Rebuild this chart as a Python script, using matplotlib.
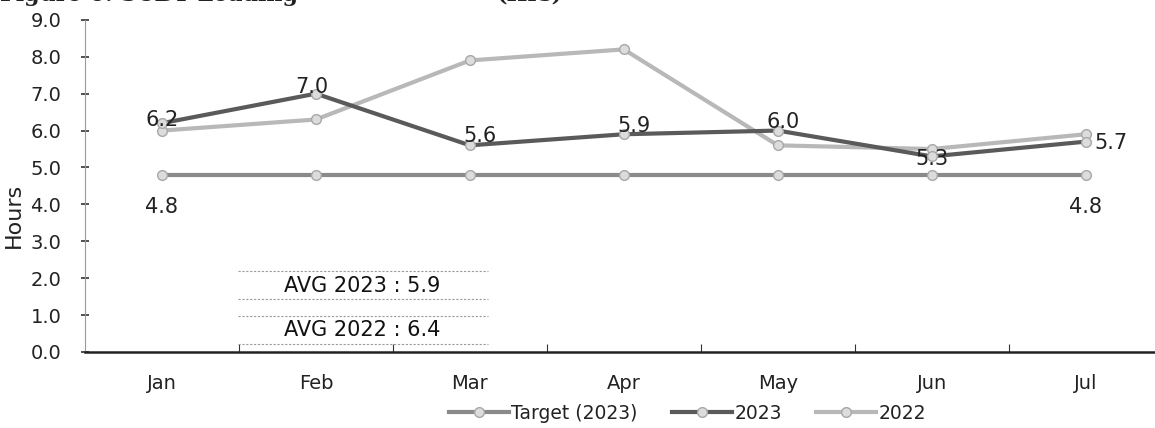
import matplotlib
matplotlib.use("Agg")
import matplotlib.pyplot as plt
from matplotlib.lines import Line2D
from matplotlib.ticker import FixedLocator

plt.rcParams['font.family'] = ['DejaVu Sans']

months = ["Jan", "Feb", "Mar", "Apr", "May", "Jun", "Jul"]
target_2023 = [4.8, 4.8, 4.8, 4.8, 4.8, 4.8, 4.8]
hours_2023 = [6.2, 7.0, 5.6, 5.9, 6.0, 5.3, 5.7]
hours_2022 = [6.0, 6.3, 7.9, 8.2, 5.6, 5.5, 5.9]
avg_2023 = 5.9
avg_2022 = 6.4
y_ticks = [0, 1, 2, 3, 4, 5, 6, 7, 8, 9]

fig = plt.figure(figsize=(11.55, 4.28), dpi=100)
ax = fig.add_axes([0.0736, 0.1776, 0.933, 0.776])

x = list(range(len(months)))

marker_kw = dict(marker="o", markersize=7, markerfacecolor="#dcdcdc",
                 markeredgecolor="#a8a8a8", markeredgewidth=1.0)

l_t, = ax.plot(x, target_2023, color="#8a8a8a", lw=3.0, label="Target (2023)",
               zorder=3, **marker_kw)
l_23, = ax.plot(x, hours_2023, color="#5a5a5a", lw=3.0, label="2023",
                zorder=4, **marker_kw)
l_22, = ax.plot(x, hours_2022, color="#b8b8b8", lw=3.0, label="2022",
                zorder=3, **marker_kw)

# value labels for the 2023 series (offsets in points)
offsets_2023 = [(0, 2), (-3, 5), (7, 7), (7, 6), (4, 6), (0, -2), (6, -1)]
has = ["center", "center", "center", "center", "center", "center", "left"]
for xi, v, off, ha in zip(x, hours_2023, offsets_2023, has):
    ax.annotate(f"{v:.1f}", (xi, v), xytext=off, textcoords="offset points",
                ha=ha, va="center", fontsize=15, color="#222222", zorder=6)

# target labels at the two ends, below the line
for i in (0, len(x) - 1):
    ax.annotate(f"{target_2023[i]:.1f}", (x[i], target_2023[i]), xytext=(0, -23),
                textcoords="offset points", ha="center", va="center",
                fontsize=15, color="#222222")

ax.set_xlim(-0.5, len(months) - 0.5)
ax.set_ylim(0, 9)
ax.set_yticks(y_ticks)
ax.set_yticklabels([f"{t:.1f}" for t in y_ticks])
ax.set_xticks(x)
ax.set_xticklabels(months)
ax.xaxis.set_minor_locator(FixedLocator([i + 0.5 for i in x[:-1]]))
ax.tick_params(axis="x", which="major", length=0, pad=16, labelsize=14,
               labelcolor="#222222")
ax.tick_params(axis="x", which="minor", direction="in", length=6, width=0.8,
               color="#333333")
ax.tick_params(axis="y", direction="inout", length=6, width=1.2,
               color="#333333", pad=14, labelsize=14, labelcolor="#222222")

for s in ("top", "right"):
    ax.spines[s].set_visible(False)
ax.spines["left"].set_color("#9a9a9a")
ax.spines["left"].set_linewidth(0.8)
ax.spines["left"].set_linestyle((0, (3, 1)))
ax.spines["bottom"].set_color("#222222")
ax.spines["bottom"].set_linewidth(1.8)

ax.set_ylabel("Hours", fontsize=16, color="#222222")
ax.yaxis.set_label_coords(-0.057, 0.41)

# average summary boxes
for yy in (0.244, 0.16, 0.108, 0.024):
    ax.add_line(Line2D([0.142, 0.374], [yy, yy], transform=ax.transAxes,
                       color="#9a9a9a", lw=0.8, ls=(0, (2, 1.5))))
ax.text(0.257, 0.199, f"AVG 2023 : {avg_2023:.1f}", transform=ax.transAxes,
        ha="center", va="center", fontsize=15, color="#111111")
ax.text(0.257, 0.066, f"AVG 2022 : {avg_2022:.1f}", transform=ax.transAxes,
        ha="center", va="center", fontsize=15, color="#111111")

fig.legend(handles=[l_t, l_23, l_22], loc="center", bbox_to_anchor=(0.595, 0.035),
           ncol=3, frameon=False, fontsize=13.5, handlelength=3.2,
           handletextpad=0.15, columnspacing=1.8, labelcolor="#222222")

# figure caption running off the top edge
fig.text(0.0, 1 - 1.0 / 428, "Figure 6: SCBT Loading", fontsize=16,
         fontweight="bold", family="DejaVu Serif", va="baseline", ha="left",
         color="#222222")
fig.text(0.43, 1 - 1.0 / 428, "(Hrs)", fontsize=16, fontweight="bold",
         family="DejaVu Serif", va="baseline", ha="left", color="#222222")

fig.savefig("out.png", dpi=100)
